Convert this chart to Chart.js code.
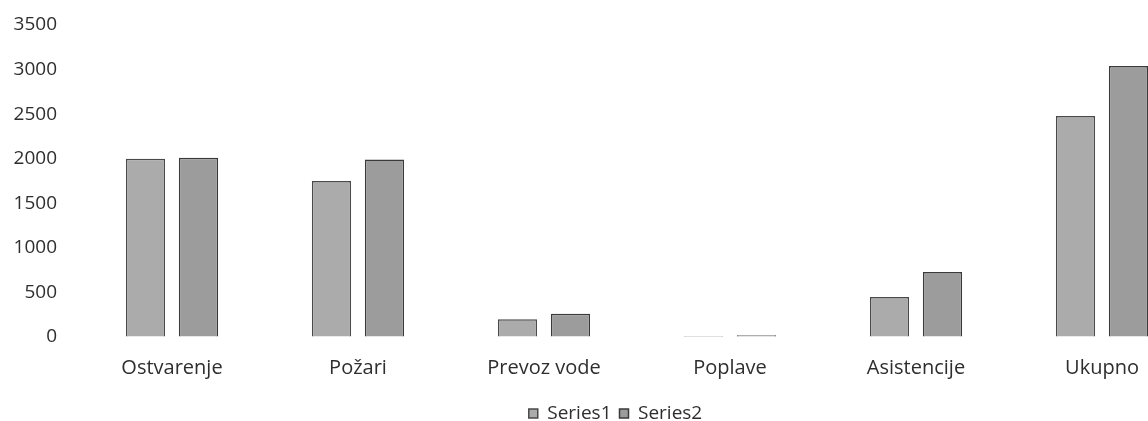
<!DOCTYPE html>
<html>
<head>
<meta charset="utf-8">
<script src="https://cdn.jsdelivr.net/npm/chart.js@4"></script>
<style>
  html, body { margin: 0; padding: 0; background: #fff; overflow: hidden; }
  #wrap { width: 1228px; height: 433px; }
</style>
</head>
<body>
<div id="wrap"><canvas id="chart" width="1228" height="433"></canvas></div>
<script>
// categories and values
const categories = ["Ostvarenje", "Požari", "Prevoz vode", "Poplave", "Asistencije", "Ukupno"];
const series1 = [2000, 1750, 200, 10, 450, 2480];
const series2 = [2010, 1990, 260, 20, 730, 3040];
const yTicks = [0, 500, 1000, 1500, 2000, 2500, 3000, 3500];

const textColor = "#2e2e2e";
const fontFamily = "'Open Sans', 'Noto Sans', sans-serif";

// the scanned legend sits a bit right of the plot centre
const legendShift = {
  id: "legendShift",
  afterLayout(chart) {
    const legend = chart.legend;
    if (!legend) {
      return;
    }
    legend.left += 18;
    legend.right += 18;
  },
};

const ctx = document.getElementById("chart").getContext("2d");

new Chart(ctx, {
  type: "bar",
  data: {
    labels: categories,
    datasets: [
      {
        label: "Series1",
        data: series1,
        backgroundColor: "#ababab",
        borderColor: "#4a4a4a",
        borderWidth: 1.5,
        categoryPercentage: 0.57,
        barPercentage: 0.74,
      },
      {
        label: "Series2",
        data: series2,
        backgroundColor: "#9c9c9c",
        borderColor: "#3a3a3a",
        borderWidth: 1.5,
        categoryPercentage: 0.57,
        barPercentage: 0.74,
      },
    ],
  },
  plugins: [legendShift],
  options: {
    responsive: false,
    animation: false,
    layout: {
      padding: { top: 25, right: 33, bottom: 0, left: 0 },
    },
    scales: {
      x: {
        grid: { display: false },
        border: { display: false },
        ticks: {
          color: textColor,
          font: { family: fontFamily, size: 20 },
          padding: 11,
          maxRotation: 0,
        },
        afterFit: (scale) => {
          scale.height = 59;
        },
      },
      y: {
        min: 0,
        max: 3500,
        // invisible grid, only used so the tick length moves the labels left
        grid: { display: true, color: "rgba(0,0,0,0)", drawTicks: true, tickLength: 19 },
        border: { display: false },
        afterBuildTicks: (scale) => {
          scale.ticks = yTicks.map((v) => ({ value: v }));
        },
        ticks: {
          color: textColor,
          font: { family: fontFamily, size: 19 },
          padding: 3,
          callback: (v) => String(v),
        },
        afterFit: (scale) => {
          scale.width = 79;
        },
      },
    },
    plugins: {
      legend: {
        position: "bottom",
        labels: {
          color: textColor,
          font: { family: fontFamily, size: 19 },
          boxWidth: 9,
          boxHeight: 9,
          padding: 8,
        },
      },
      tooltip: { enabled: false },
    },
  },
});
</script>
</body>
</html>
